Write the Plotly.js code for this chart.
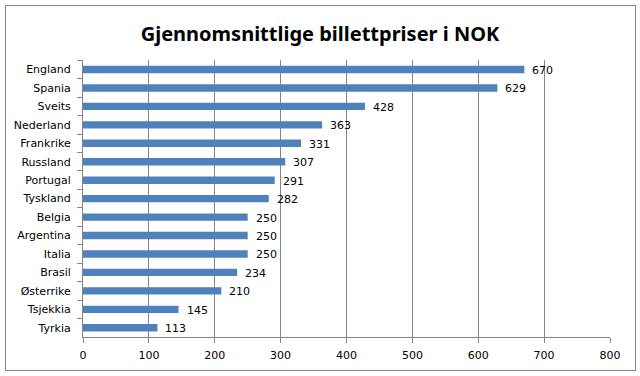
<!DOCTYPE html>
<html>
<head>
<meta charset="utf-8">
<script src="https://cdn.plot.ly/plotly-3.0.1.min.js"></script>
<style>
html,body{margin:0;padding:0;background:#fff;}
#wrap{position:relative;width:640px;height:376px;}
#chart{position:absolute;left:0;top:0;width:640px;height:376px;}
#frame{position:absolute;left:5px;top:5px;width:629px;height:364px;border:1px solid #868686;pointer-events:none;}
</style>
</head>
<body>
<div id="wrap"><div id="chart"></div><div id="frame"></div></div>
<script>
const countries = ["England","Spania","Sveits","Nederland","Frankrike","Russland","Portugal","Tyskland","Belgia","Argentina","Italia","Brasil","Østerrike","Tsjekkia","Tyrkia"];
const prices = [670,629,428,363,331,307,291,282,250,250,250,234,210,145,113];
const xTicks = [0,100,200,300,400,500,600,700,800];
const chartTitle = "Gjennomsnittlige billettpriser i NOK";

const labelFont = {family: "DejaVu Sans, Verdana, sans-serif", size: 11, color: "#000"};

const trace = {
  type: "bar",
  orientation: "h",
  y: countries,
  x: prices,
  marker: {color: "#4F81BD"},
  width: 0.4,
  hoverinfo: "none"
};

const annotations = countries.map((c, i) => ({
  x: prices[i], y: c, xref: "x", yref: "y",
  text: String(prices[i]), showarrow: false,
  xanchor: "left", yanchor: "middle", xshift: 6, yshift: -1,
  font: labelFont
}));

const layout = {
  width: 640, height: 376,
  margin: {l: 83, r: 30, t: 60, b: 39, pad: 0},
  paper_bgcolor: "#fff", plot_bgcolor: "#fff",
  showlegend: false,
  annotations: annotations,
  title: {text: "<b>" + chartTitle + "</b>", x: 0.5, xanchor: "center", y: 0.91, yanchor: "middle",
          font: {family: "Noto Sans, sans-serif", size: 20, color: "#000"}},
  xaxis: {
    range: [0, 800], tickvals: xTicks, ticktext: xTicks.map(String),
    showgrid: true, gridcolor: "#868686", gridwidth: 1,
    zeroline: false, showline: true, linecolor: "#868686", linewidth: 1,
    ticks: "outside", ticklen: 5, tickcolor: "#868686",
    tickfont: labelFont, ticklabelstandoff: 3,
    fixedrange: true
  },
  yaxis: {
    type: "category", autorange: "reversed",
    categoryorder: "array", categoryarray: countries,
    showgrid: false, zeroline: false, showline: true, linecolor: "#868686", linewidth: 1,
    ticks: "outside", ticklen: 5, tickcolor: "#868686", tickson: "boundaries",
    tickfont: labelFont,
    ticklabelstandoff: 9,
    fixedrange: true
  }
};

Plotly.newPlot("chart", [trace], layout, {displayModeBar: false, staticPlot: true});
</script>
</body>
</html>
